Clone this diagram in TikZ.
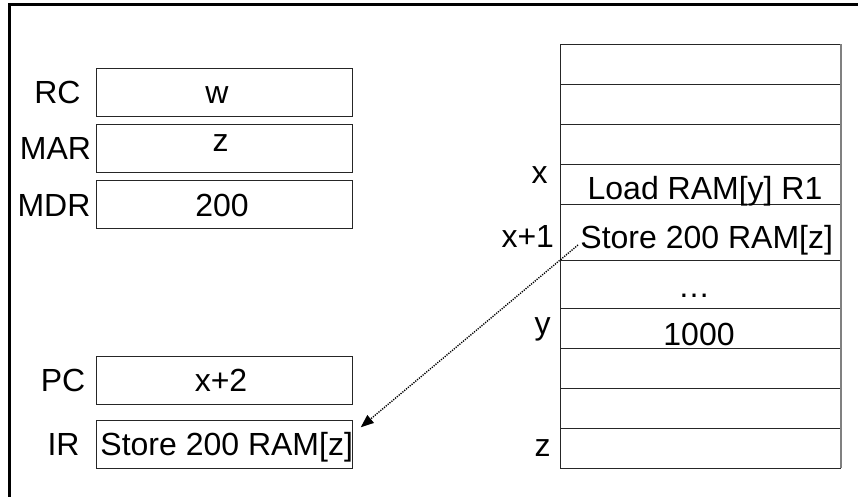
\documentclass[tikz,border=0pt]{standalone}
\usepackage{fontspec}
\setmainfont{Liberation Sans}
\usetikzlibrary{arrows.meta}
\begin{document}
\begin{tikzpicture}[x=1pt,y=-1pt,
  font=\fontsize{32}{38}\selectfont,
  reg/.style={draw=black!85, line width=1pt, minimum width=256pt, minimum height=48pt,
    inner sep=0pt, outer sep=0pt, anchor=north west},
  cell/.style={draw=black!85, line width=1pt, minimum width=280pt,
    inner sep=0pt, outer sep=0pt, anchor=north west},
  txt/.style={anchor=base, inner sep=0pt, outer sep=0pt},
  lbl/.style={anchor=base east, inner sep=0pt, outer sep=0pt},
  frame/.style={line width=3pt, black},
  ptr/.style={line width=1.4pt, dash pattern=on 1.2pt off 1.2pt,
    -{Triangle[length=13pt,width=10pt]}}]
\useasboundingbox (0,0) rectangle (858,497);

% outer frame (top and left only)
\draw[frame] (9.5,497) -- (9.5,5) -- (858,5);

% registers
\node[reg] (rc)  at (96.7,68.3)  {};
\node[reg] (mar) at (96.7,124.3) {};
\node[reg] (mdr) at (96.7,180.3) {};
\node[reg] (pc)  at (96.7,356.7) {};
\node[reg] (ir)  at (96.7,420.7) {};

\node[txt] (rcl)  at (57.5,104)  {RC};
\node[txt] (marl) at (55.5,160)  {MAR};
\node[txt] (mdrl) at (54,216)    {MDR};
\node[txt] (pcl)  at (63,391.7)  {PC};
\node[txt] (irl)  at (63.5,455)  {IR};

\node[txt] (rcv)  at (217,103.3)   {w};
\node[txt] (marv) at (220.5,151.7) {z};
\node[txt] (mdrv) at (222,216.7)   {200};
\node[txt] (pcv)  at (221,391.7)   {x+2};
\node[txt] (irv)  at (226.7,455)   {Store 200 RAM[z]};

% memory
\node[cell, minimum height=40pt] (m1)  at (560.7,44.3)  {};
\node[cell, minimum height=40pt] (m2)  at (560.7,84.3)  {};
\node[cell, minimum height=40pt] (m3)  at (560.7,124.3) {};
\node[cell, minimum height=40pt] (m4)  at (560.7,164.3) {};
\node[cell, minimum height=56pt] (m5)  at (560.7,204.3) {};
\node[cell, minimum height=48pt] (m6)  at (560.7,260.3) {};
\node[cell, minimum height=40pt] (m7)  at (560.7,308.3) {};
\node[cell, minimum height=40pt] (m8)  at (560.7,348.3) {};
\node[cell, minimum height=40pt] (m9)  at (560.7,388.3) {};
\node[cell, minimum height=40pt] (m10) at (560.7,428.3) {};
\draw[gray, line width=1.6pt] (m1.north east) -- (m10.south east);

\node[txt] (m4v) at (705,199.3)   {Load RAM[y] R1};
\node[txt] (m5v) at (706.7,248.3) {Store 200 RAM[z]};
\node[txt] (m6v) at (694,297.3)   {…};
\node[txt] (m7v) at (699,345.5)   {1000};

\node[lbl] (m4l)  at (547.5,183)   {x};
\node[lbl] (m5l)  at (554,247.3)   {x+1};
\node[lbl] (m7l)  at (550.5,334)   {y};
\node[lbl] (m10l) at (550.5,456)   {z};

% fetch arrow
\coordinate (fs) at (578,245);
\coordinate (fe) at (360.7,427.3);
\draw[ptr] (fs) -- (fe);
\end{tikzpicture}
\end{document}
